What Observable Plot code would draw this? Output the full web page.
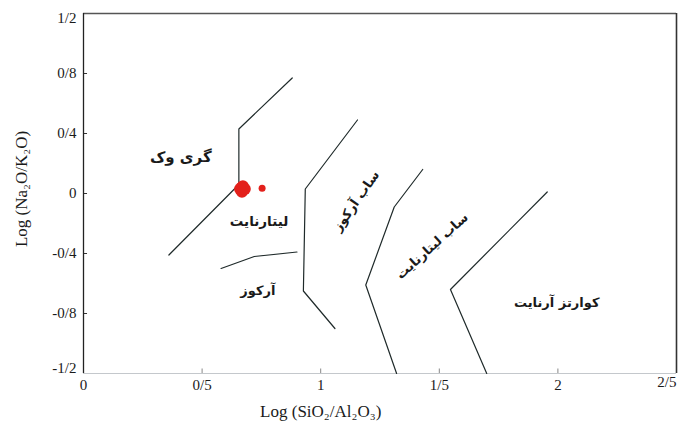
<!DOCTYPE html>
<html>
<head>
<meta charset="utf-8">
<script src="https://cdn.jsdelivr.net/npm/d3@7"></script>
<script src="https://cdn.jsdelivr.net/npm/@observablehq/plot@0.6"></script>
<style>
  html, body { margin: 0; padding: 0; background: #fff; }
</style>
</head>
<body>
<div id="chart"></div>
<script>
// Axis ticks
const xTicks = [0, 0.5, 1, 1.5, 2, 2.5];
const yTicks = [-1.2, -0.8, -0.4, 0, 0.4, 0.8, 1.2];

// Field boundaries, as [log(SiO2/Al2O3), log(Na2O/K2O)] vertices
const greywackeLine = [[0.36, -0.41], [0.655, 0.06], [0.655, 0.43], [0.88, 0.77]];
const arkoseLine = [[0.58, -0.50], [0.72, -0.42], [0.90, -0.39]];
const subarkoseLine = [[1.155, 0.49], [0.935, 0.03], [0.927, -0.65], [1.06, -0.90]];
const sublitharLine = [[1.43, 0.16], [1.31, -0.09], [1.19, -0.61], [1.32, -1.2]];
const quartzLine = [[1.955, 0.01], [1.547, -0.64], [1.70, -1.2]];

// Samples
const sampleX = [0.660, 0.672, 0.668, 0.680, 0.664, 0.753];
const sampleY = [0.030, 0.048, 0.012, 0.030, 0.045, 0.035];
const sampleR = [6, 6, 6, 6, 5, 3.5];

// Field names
const fieldNames = ["گری وک", "لیتارنایت", "آرکوز", "ساب آرکوز", "ساب لیتارنایت", "کوارتز آرنایت"];
const fieldX = [0.41, 0.74, 0.735, 1.15, 1.47, 1.995];
const fieldY = [0.24, -0.19, -0.65, -0.05, -0.35, -0.73];
const fieldAngle = [0, 0, 0, -55, -42, 0];
const fieldSize = [15, 13.5, 13, 13, 13, 13];

const xTitle = "Log (SiO₂/Al₂O₃)";
const yTitle = "Log (Na₂O/K₂O)";

const boundaries = [greywackeLine, arkoseLine, subarkoseLine, sublitharLine, quartzLine]
  .flatMap((line, i) => line.map(([x, y]) => ({x, y, id: i})));
const samples = sampleX.map((x, i) => ({x, y: sampleY[i], r: sampleR[i]}));
const fields = fieldNames.map((name, i) => ({name, x: fieldX[i], y: fieldY[i], angle: fieldAngle[i], size: fieldSize[i]}));

const fmt = d => String(d).replace(".", "/");
const xEnd = xTicks[xTicks.length - 1];
const yTop = yTicks[yTicks.length - 1];
const yBottom = yTicks[0];

const chart = Plot.plot({
  width: 682,
  height: 432,
  marginLeft: 83,
  marginRight: 6,
  marginTop: 13,
  marginBottom: 59,
  style: {fontFamily: "Liberation Serif", fontSize: "15px", color: "#1a1a1a", background: "#fff"},
  x: {domain: [0, 2.5]},
  y: {domain: [-1.2, 1.2]},
  r: {type: "identity"},
  marks: [
    // tick labels (end labels nudged inside the frame)
    Plot.axisX(xTicks.slice(0, -1), {tickSize: 0, tickPadding: 6, tickFormat: fmt, label: null, fontSize: 15}),
    Plot.text([xEnd], {x: d => d, frameAnchor: "bottom", dy: 13, text: fmt, textAnchor: "end", fontSize: 15}),
    Plot.axisY(yTicks.slice(1, -1), {tickSize: 0, tickPadding: 7, tickFormat: fmt, label: null, fontSize: 15}),
    Plot.text([yTop], {y: d => d, frameAnchor: "left", dx: -7, dy: 5, text: fmt, textAnchor: "end", fontSize: 15}),
    Plot.text([yBottom], {y: d => d, frameAnchor: "left", dx: -7, dy: -5, text: fmt, textAnchor: "end", fontSize: 15}),
    // inward ticks
    Plot.ruleY(yTicks, {x1: 0, x2: 0.017, stroke: "#333", strokeWidth: 1}),
    Plot.ruleX(xTicks, {y1: -1.2, y2: -1.17, stroke: "#888", strokeWidth: 1}),
    // frame
    Plot.ruleY([-1.2], {stroke: "#c4c8cc", strokeWidth: 1}),
    Plot.ruleY([1.2], {stroke: "#555", strokeWidth: 1.6}),
    Plot.ruleX([0], {stroke: "#222", strokeWidth: 1.3}),
    Plot.ruleX([2.5], {stroke: "#333", strokeWidth: 1.6}),
    // field boundaries
    Plot.line(boundaries, {x: "x", y: "y", z: "id", stroke: "#1f2a2a", strokeWidth: 1.2}),
    // field names
    Plot.text(fields, {x: "x", y: "y", text: "name", rotate: "angle", fontSize: "size",
      fontFamily: "DejaVu Sans", fontWeight: "bold", fill: "#1a1a1a"}),
    // samples
    Plot.dot(samples, {x: "x", y: "y", r: "r", fill: "#e3201b", stroke: "none"}),
    // axis titles
    Plot.text([xTitle], {x: () => 1, y: () => -1.2, dy: 38, text: d => d, fontSize: 17, fill: "#1a1a1a"}),
    Plot.text([yTitle], {x: () => 0, y: () => 0.03, dx: -62, rotate: -90, text: d => d, fontSize: 17, fill: "#1a1a1a"})
  ]
});

document.getElementById("chart").append(chart);
</script>
</body>
</html>
